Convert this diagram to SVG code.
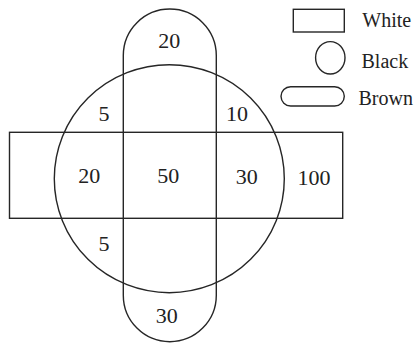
<svg xmlns="http://www.w3.org/2000/svg" width="417" height="344" viewBox="0 0 417 344">
<style>
.s{fill:none;stroke:#262626;stroke-width:1.4}
.n{font-family:'Liberation Serif','DejaVu Serif',serif;font-size:22px;fill:#222;text-anchor:middle}
.l{font-family:'Liberation Serif','DejaVu Serif',serif;font-size:20px;fill:#222}
</style>
<rect width="417" height="344" fill="#fff"/>
<g id="white">
<rect class="s" x="9.5" y="132.3" width="333.2" height="86"/>
</g>
<g id="black">
<ellipse class="s" cx="169.3" cy="178.7" rx="115" ry="114"/>
</g>
<g id="brown">
<path class="s" d="M123.3,55.5 A46.5,46.5 0 0 1 216.3,55.5 L216.3,295.2 A46.5,46.5 0 0 1 123.3,295.2 Z"/>
</g>
<g id="numbers">
<text class="n" x="169.3" y="48.3">20</text>
<text class="n" x="104" y="120.7">5</text>
<text class="n" x="237" y="120.7">10</text>
<text class="n" x="89.3" y="182.7">20</text>
<text class="n" x="168.3" y="182.7">50</text>
<text class="n" x="246.7" y="184">30</text>
<text class="n" x="314" y="185">100</text>
<text class="n" x="104" y="250.7">5</text>
<text class="n" x="166.7" y="322.7">30</text>
</g>
<g id="legend-white">
<rect class="s" x="293.3" y="9.3" width="51" height="22.7"/>
<text class="l" x="362.3" y="26.7">White</text>
</g>
<g id="legend-black">
<ellipse class="s" cx="330.3" cy="57.8" rx="14.7" ry="16.2"/>
<text class="l" x="361.5" y="68.3">Black</text>
</g>
<g id="legend-brown">
<rect class="s" x="281" y="86.7" width="63.3" height="19.3" rx="9.65" ry="9.65"/>
<text class="l" x="358.5" y="105">Brown</text>
</g>
<g id="connectors"></g>
</svg>
